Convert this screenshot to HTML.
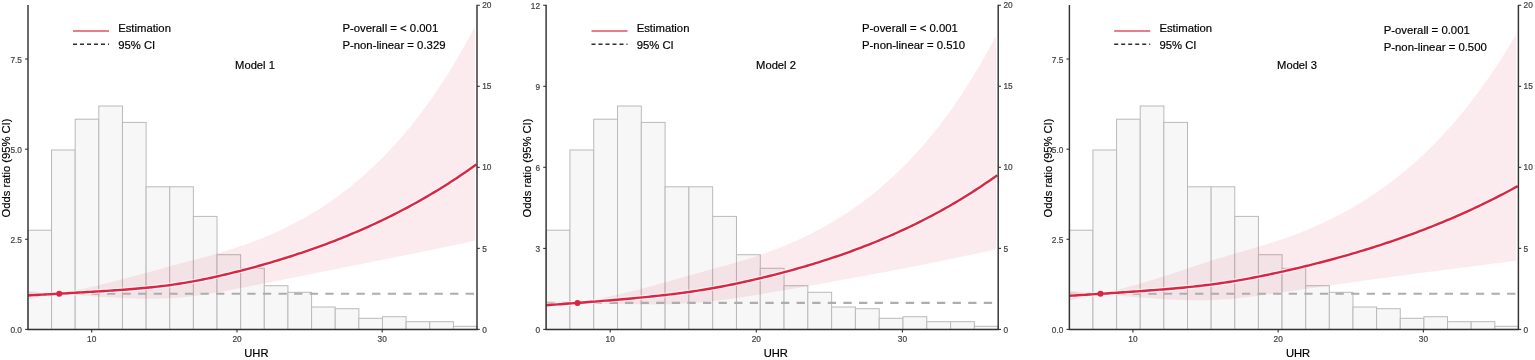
<!DOCTYPE html>
<html lang="en"><head><meta charset="utf-8"><title>Restricted cubic spline: UHR and odds ratio</title>
<style>html,body{margin:0;padding:0;background:#fff;}body{width:1535px;height:360px;overflow:hidden;}svg{display:block;}</style>
</head><body>
<svg width="1535" height="360" viewBox="0 0 1535 360" font-family='"Liberation Sans", sans-serif'>
<rect width="1535" height="360" fill="#ffffff"/>
<g fill="#f7f7f7" stroke="#bababa" stroke-width="1.0">
<rect x="27.90" y="230.20" width="23.64" height="99.20"/>
<rect x="51.54" y="150.00" width="23.64" height="179.40"/>
<rect x="75.18" y="119.20" width="23.64" height="210.20"/>
<rect x="98.82" y="106.00" width="23.64" height="223.40"/>
<rect x="122.46" y="122.40" width="23.64" height="207.00"/>
<rect x="146.10" y="186.80" width="23.64" height="142.60"/>
<rect x="169.74" y="186.80" width="23.64" height="142.60"/>
<rect x="193.38" y="216.40" width="23.64" height="113.00"/>
<rect x="217.02" y="254.70" width="23.64" height="74.70"/>
<rect x="240.66" y="268.30" width="23.64" height="61.10"/>
<rect x="264.30" y="285.70" width="23.64" height="43.70"/>
<rect x="287.94" y="292.30" width="23.64" height="37.10"/>
<rect x="311.58" y="307.00" width="23.64" height="22.40"/>
<rect x="335.22" y="308.70" width="23.64" height="20.70"/>
<rect x="358.86" y="318.30" width="23.64" height="11.10"/>
<rect x="382.50" y="316.70" width="23.64" height="12.70"/>
<rect x="406.14" y="321.70" width="23.64" height="7.70"/>
<rect x="429.78" y="321.70" width="23.64" height="7.70"/>
<rect x="453.42" y="326.30" width="23.64" height="3.10"/>
</g>
<path d="M28.00,291.13 L30.82,291.37 L33.64,291.60 L36.46,291.84 L39.28,292.08 L42.10,292.31 L44.92,292.54 L47.74,292.77 L50.56,293.00 L53.38,293.23 L56.19,293.46 L59.01,293.69 L61.83,293.19 L64.65,292.63 L67.47,292.06 L70.29,291.49 L73.11,290.90 L75.93,290.31 L78.75,289.71 L81.57,289.09 L84.39,288.47 L87.21,287.84 L90.03,287.20 L92.85,286.55 L95.67,285.89 L98.49,285.22 L101.31,284.55 L104.13,283.86 L106.95,283.16 L109.77,282.46 L112.58,281.75 L115.40,281.03 L118.22,280.31 L121.04,279.58 L123.86,278.84 L126.68,278.09 L129.50,277.34 L132.32,276.59 L135.14,275.83 L137.96,275.07 L140.78,274.30 L143.60,273.54 L146.42,272.76 L149.24,271.99 L152.06,271.22 L154.88,270.44 L157.70,269.67 L160.52,268.90 L163.34,268.12 L166.16,267.35 L168.97,266.58 L171.79,265.82 L174.61,265.06 L177.43,264.30 L180.25,263.54 L183.07,262.79 L185.89,262.03 L188.71,261.28 L191.53,260.53 L194.35,259.77 L197.17,259.02 L199.99,258.26 L202.81,257.49 L205.63,256.72 L208.45,255.94 L211.27,255.15 L214.09,254.36 L216.91,253.55 L219.73,252.73 L222.55,251.90 L225.36,251.05 L228.18,250.18 L231.00,249.30 L233.82,248.40 L236.64,247.48 L239.46,246.54 L242.28,245.58 L245.10,244.60 L247.92,243.59 L250.74,242.56 L253.56,241.51 L256.38,240.44 L259.20,239.34 L262.02,238.21 L264.84,237.06 L267.66,235.89 L270.48,234.68 L273.30,233.45 L276.12,232.19 L278.94,230.90 L281.75,229.59 L284.57,228.24 L287.39,226.86 L290.21,225.45 L293.03,224.01 L295.85,222.53 L298.67,221.03 L301.49,219.49 L304.31,217.91 L307.13,216.30 L309.95,214.65 L312.77,212.97 L315.59,211.25 L318.41,209.49 L321.23,207.70 L324.05,205.86 L326.87,203.98 L329.69,202.07 L332.51,200.11 L335.33,198.11 L338.14,196.07 L340.96,193.98 L343.78,191.85 L346.60,189.68 L349.42,187.46 L352.24,185.19 L355.06,182.87 L357.88,180.51 L360.70,178.10 L363.52,175.63 L366.34,173.12 L369.16,170.55 L371.98,167.94 L374.80,165.26 L377.62,162.54 L380.44,159.75 L383.26,156.92 L386.08,154.02 L388.90,151.07 L391.72,148.05 L394.53,144.98 L397.35,141.84 L400.17,138.64 L402.99,135.38 L405.81,132.05 L408.63,128.65 L411.45,125.19 L414.27,121.66 L417.09,118.06 L419.91,114.39 L422.73,110.65 L425.55,106.83 L428.37,102.94 L431.19,98.97 L434.01,94.92 L436.83,90.79 L439.65,86.59 L442.47,82.30 L445.29,77.92 L448.11,73.47 L450.92,68.92 L453.74,64.29 L456.56,59.57 L459.38,54.75 L462.20,49.84 L465.02,44.84 L467.84,39.74 L470.66,34.54 L473.48,29.24 L474.80,26.72 L474.80,240.68 L473.48,240.97 L470.66,241.58 L467.84,242.19 L465.02,242.79 L462.20,243.40 L459.38,244.00 L456.56,244.60 L453.74,245.20 L450.92,245.79 L448.11,246.39 L445.29,246.98 L442.47,247.57 L439.65,248.16 L436.83,248.75 L434.01,249.34 L431.19,249.92 L428.37,250.50 L425.55,251.09 L422.73,251.67 L419.91,252.24 L417.09,252.82 L414.27,253.40 L411.45,253.97 L408.63,254.55 L405.81,255.12 L402.99,255.69 L400.17,256.26 L397.35,256.83 L394.53,257.40 L391.72,257.97 L388.90,258.54 L386.08,259.10 L383.26,259.67 L380.44,260.24 L377.62,260.80 L374.80,261.37 L371.98,261.93 L369.16,262.49 L366.34,263.06 L363.52,263.62 L360.70,264.18 L357.88,264.74 L355.06,265.31 L352.24,265.87 L349.42,266.43 L346.60,266.99 L343.78,267.56 L340.96,268.12 L338.14,268.68 L335.33,269.24 L332.51,269.80 L329.69,270.37 L326.87,270.93 L324.05,271.49 L321.23,272.05 L318.41,272.62 L315.59,273.18 L312.77,273.74 L309.95,274.31 L307.13,274.87 L304.31,275.44 L301.49,276.00 L298.67,276.56 L295.85,277.13 L293.03,277.69 L290.21,278.26 L287.39,278.82 L284.57,279.38 L281.75,279.95 L278.94,280.51 L276.12,281.07 L273.30,281.63 L270.48,282.19 L267.66,282.76 L264.84,283.31 L262.02,283.87 L259.20,284.43 L256.38,284.99 L253.56,285.54 L250.74,286.10 L247.92,286.65 L245.10,287.20 L242.28,287.75 L239.46,288.29 L236.64,288.84 L233.82,289.38 L231.00,289.92 L228.18,290.45 L225.36,290.98 L222.55,291.49 L219.73,292.00 L216.91,292.50 L214.09,292.99 L211.27,293.46 L208.45,293.92 L205.63,294.36 L202.81,294.79 L199.99,295.20 L197.17,295.59 L194.35,295.96 L191.53,296.31 L188.71,296.64 L185.89,296.95 L183.07,297.24 L180.25,297.50 L177.43,297.74 L174.61,297.95 L171.79,298.14 L168.97,298.30 L166.16,298.44 L163.34,298.55 L160.52,298.64 L157.70,298.71 L154.88,298.76 L152.06,298.80 L149.24,298.81 L146.42,298.80 L143.60,298.78 L140.78,298.74 L137.96,298.69 L135.14,298.62 L132.32,298.53 L129.50,298.44 L126.68,298.33 L123.86,298.21 L121.04,298.07 L118.22,297.93 L115.40,297.78 L112.58,297.61 L109.77,297.44 L106.95,297.26 L104.13,297.08 L101.31,296.89 L98.49,296.69 L95.67,296.49 L92.85,296.28 L90.03,296.07 L87.21,295.86 L84.39,295.65 L81.57,295.44 L78.75,295.22 L75.93,295.01 L73.11,294.79 L70.29,294.57 L67.47,294.35 L64.65,294.13 L61.83,293.91 L59.01,293.74 L56.19,294.28 L53.38,294.81 L50.56,295.34 L47.74,295.85 L44.92,296.36 L42.10,296.86 L39.28,297.36 L36.46,297.84 L33.64,298.32 L30.82,298.79 L28.00,299.26 Z" fill="#dc2543" fill-opacity="0.09"/>
<line x1="28.90" y1="293.70" x2="477.00" y2="293.70" stroke="#adadad" stroke-width="2.1" stroke-dasharray="8.3 7.3"/>
<path d="M28.00,295.43 L30.82,295.28 L33.64,295.13 L36.46,294.97 L39.28,294.82 L42.10,294.66 L44.92,294.50 L47.74,294.35 L50.56,294.19 L53.38,294.03 L56.19,293.87 L59.01,293.71 L61.83,293.55 L64.65,293.39 L67.47,293.23 L70.29,293.06 L73.11,292.90 L75.93,292.73 L78.75,292.57 L81.57,292.40 L84.39,292.24 L87.21,292.07 L90.03,291.90 L92.85,291.73 L95.67,291.56 L98.49,291.39 L101.31,291.21 L104.13,291.03 L106.95,290.85 L109.77,290.67 L112.58,290.48 L115.40,290.29 L118.22,290.09 L121.04,289.89 L123.86,289.69 L126.68,289.47 L129.50,289.25 L132.32,289.03 L135.14,288.79 L137.96,288.55 L140.78,288.30 L143.60,288.04 L146.42,287.77 L149.24,287.49 L152.06,287.20 L154.88,286.90 L157.70,286.59 L160.52,286.26 L163.34,285.92 L166.16,285.57 L168.97,285.20 L171.79,284.82 L174.61,284.42 L177.43,284.00 L180.25,283.56 L183.07,283.11 L185.89,282.65 L188.71,282.16 L191.53,281.66 L194.35,281.15 L197.17,280.62 L199.99,280.07 L202.81,279.51 L205.63,278.94 L208.45,278.35 L211.27,277.74 L214.09,277.13 L216.91,276.50 L219.73,275.85 L222.55,275.20 L225.36,274.53 L228.18,273.85 L231.00,273.16 L233.82,272.46 L236.64,271.76 L239.46,271.04 L242.28,270.31 L245.10,269.58 L247.92,268.83 L250.74,268.08 L253.56,267.32 L256.38,266.54 L259.20,265.76 L262.02,264.97 L264.84,264.17 L267.66,263.35 L270.48,262.53 L273.30,261.70 L276.12,260.86 L278.94,260.01 L281.75,259.14 L284.57,258.27 L287.39,257.38 L290.21,256.49 L293.03,255.58 L295.85,254.66 L298.67,253.73 L301.49,252.79 L304.31,251.83 L307.13,250.87 L309.95,249.89 L312.77,248.90 L315.59,247.90 L318.41,246.89 L321.23,245.86 L324.05,244.82 L326.87,243.77 L329.69,242.70 L332.51,241.62 L335.33,240.53 L338.14,239.42 L340.96,238.30 L343.78,237.17 L346.60,236.02 L349.42,234.86 L352.24,233.68 L355.06,232.49 L357.88,231.28 L360.70,230.06 L363.52,228.83 L366.34,227.58 L369.16,226.31 L371.98,225.03 L374.80,223.73 L377.62,222.41 L380.44,221.08 L383.26,219.73 L386.08,218.37 L388.90,216.99 L391.72,215.59 L394.53,214.17 L397.35,212.74 L400.17,211.28 L402.99,209.81 L405.81,208.32 L408.63,206.82 L411.45,205.29 L414.27,203.75 L417.09,202.18 L419.91,200.60 L422.73,199.00 L425.55,197.37 L428.37,195.73 L431.19,194.07 L434.01,192.38 L436.83,190.68 L439.65,188.95 L442.47,187.20 L445.29,185.43 L448.11,183.64 L450.92,181.83 L453.74,179.99 L456.56,178.13 L459.38,176.25 L462.20,174.34 L465.02,172.41 L467.84,170.46 L470.66,168.48 L473.48,166.48 L476.30,164.45" fill="none" stroke="#ffffff" stroke-opacity="0.6" stroke-width="4.8" stroke-linejoin="round"/>
<path d="M28.00,295.43 L30.82,295.28 L33.64,295.13 L36.46,294.97 L39.28,294.82 L42.10,294.66 L44.92,294.50 L47.74,294.35 L50.56,294.19 L53.38,294.03 L56.19,293.87 L59.01,293.71 L61.83,293.55 L64.65,293.39 L67.47,293.23 L70.29,293.06 L73.11,292.90 L75.93,292.73 L78.75,292.57 L81.57,292.40 L84.39,292.24 L87.21,292.07 L90.03,291.90 L92.85,291.73 L95.67,291.56 L98.49,291.39 L101.31,291.21 L104.13,291.03 L106.95,290.85 L109.77,290.67 L112.58,290.48 L115.40,290.29 L118.22,290.09 L121.04,289.89 L123.86,289.69 L126.68,289.47 L129.50,289.25 L132.32,289.03 L135.14,288.79 L137.96,288.55 L140.78,288.30 L143.60,288.04 L146.42,287.77 L149.24,287.49 L152.06,287.20 L154.88,286.90 L157.70,286.59 L160.52,286.26 L163.34,285.92 L166.16,285.57 L168.97,285.20 L171.79,284.82 L174.61,284.42 L177.43,284.00 L180.25,283.56 L183.07,283.11 L185.89,282.65 L188.71,282.16 L191.53,281.66 L194.35,281.15 L197.17,280.62 L199.99,280.07 L202.81,279.51 L205.63,278.94 L208.45,278.35 L211.27,277.74 L214.09,277.13 L216.91,276.50 L219.73,275.85 L222.55,275.20 L225.36,274.53 L228.18,273.85 L231.00,273.16 L233.82,272.46 L236.64,271.76 L239.46,271.04 L242.28,270.31 L245.10,269.58 L247.92,268.83 L250.74,268.08 L253.56,267.32 L256.38,266.54 L259.20,265.76 L262.02,264.97 L264.84,264.17 L267.66,263.35 L270.48,262.53 L273.30,261.70 L276.12,260.86 L278.94,260.01 L281.75,259.14 L284.57,258.27 L287.39,257.38 L290.21,256.49 L293.03,255.58 L295.85,254.66 L298.67,253.73 L301.49,252.79 L304.31,251.83 L307.13,250.87 L309.95,249.89 L312.77,248.90 L315.59,247.90 L318.41,246.89 L321.23,245.86 L324.05,244.82 L326.87,243.77 L329.69,242.70 L332.51,241.62 L335.33,240.53 L338.14,239.42 L340.96,238.30 L343.78,237.17 L346.60,236.02 L349.42,234.86 L352.24,233.68 L355.06,232.49 L357.88,231.28 L360.70,230.06 L363.52,228.83 L366.34,227.58 L369.16,226.31 L371.98,225.03 L374.80,223.73 L377.62,222.41 L380.44,221.08 L383.26,219.73 L386.08,218.37 L388.90,216.99 L391.72,215.59 L394.53,214.17 L397.35,212.74 L400.17,211.28 L402.99,209.81 L405.81,208.32 L408.63,206.82 L411.45,205.29 L414.27,203.75 L417.09,202.18 L419.91,200.60 L422.73,199.00 L425.55,197.37 L428.37,195.73 L431.19,194.07 L434.01,192.38 L436.83,190.68 L439.65,188.95 L442.47,187.20 L445.29,185.43 L448.11,183.64 L450.92,181.83 L453.74,179.99 L456.56,178.13 L459.38,176.25 L462.20,174.34 L465.02,172.41 L467.84,170.46 L470.66,168.48 L473.48,166.48 L476.30,164.45" fill="none" stroke="#dc2543" stroke-width="2.4" stroke-linejoin="round"/>
<circle cx="59.20" cy="293.70" r="3.0" fill="#dc2543"/>
<g stroke="#333333" stroke-width="1.45" fill="none">
<path d="M28.00,5.0 V329.4 H477.00 V5.0" stroke-linejoin="miter"/>
<line x1="25.10" y1="329.4" x2="28.00" y2="329.4" stroke-width="1.1"/>
<line x1="25.10" y1="239.3" x2="28.00" y2="239.3" stroke-width="1.1"/>
<line x1="25.10" y1="149.2" x2="28.00" y2="149.2" stroke-width="1.1"/>
<line x1="25.10" y1="59" x2="28.00" y2="59" stroke-width="1.1"/>
<line x1="477.00" y1="329.40" x2="479.80" y2="329.40" stroke-width="1.1"/>
<line x1="477.00" y1="248.37" x2="479.80" y2="248.37" stroke-width="1.1"/>
<line x1="477.00" y1="167.34" x2="479.80" y2="167.34" stroke-width="1.1"/>
<line x1="477.00" y1="86.31" x2="479.80" y2="86.31" stroke-width="1.1"/>
<line x1="477.00" y1="5.28" x2="479.80" y2="5.28" stroke-width="1.1"/>
<line x1="91.7" y1="329.4" x2="91.7" y2="332.4" stroke-width="1.1"/>
<line x1="237.0" y1="329.4" x2="237.0" y2="332.4" stroke-width="1.1"/>
<line x1="382.2" y1="329.4" x2="382.2" y2="332.4" stroke-width="1.1"/>
</g>
<text x="22.00" y="333.05" font-size="8.3" text-anchor="end" fill="#424242" stroke="#424242" stroke-width="0.2" >0.0</text>
<text x="22.00" y="242.95" font-size="8.3" text-anchor="end" fill="#424242" stroke="#424242" stroke-width="0.2" >2.5</text>
<text x="22.00" y="152.85" font-size="8.3" text-anchor="end" fill="#424242" stroke="#424242" stroke-width="0.2" >5.0</text>
<text x="22.00" y="62.65" font-size="8.3" text-anchor="end" fill="#424242" stroke="#424242" stroke-width="0.2" >7.5</text>
<text x="482.20" y="332.55" font-size="8.3" text-anchor="start" fill="#424242" stroke="#424242" stroke-width="0.2" >0</text>
<text x="482.20" y="251.52" font-size="8.3" text-anchor="start" fill="#424242" stroke="#424242" stroke-width="0.2" >5</text>
<text x="482.20" y="170.49" font-size="8.3" text-anchor="start" fill="#424242" stroke="#424242" stroke-width="0.2" >10</text>
<text x="482.20" y="89.46" font-size="8.3" text-anchor="start" fill="#424242" stroke="#424242" stroke-width="0.2" >15</text>
<text x="482.20" y="8.43" font-size="8.3" text-anchor="start" fill="#424242" stroke="#424242" stroke-width="0.2" >20</text>
<text x="91.70" y="342.30" font-size="8.3" text-anchor="middle" fill="#424242" stroke="#424242" stroke-width="0.2" >10</text>
<text x="237.00" y="342.30" font-size="8.3" text-anchor="middle" fill="#424242" stroke="#424242" stroke-width="0.2" >20</text>
<text x="382.20" y="342.30" font-size="8.3" text-anchor="middle" fill="#424242" stroke="#424242" stroke-width="0.2" >30</text>
<text x="256.40" y="357.45" font-size="11.2" text-anchor="middle" fill="#000000" stroke="#000000" stroke-width="0.18" >UHR</text>
<text transform="translate(10.2,168) rotate(-90)" font-size="11.2" text-anchor="middle" fill="#000000" stroke="#000000" stroke-width="0.18">Odds ratio (95% CI)</text>
<line x1="73" y1="31" x2="109" y2="31" stroke="#e0506a" stroke-width="1.3"/>
<line x1="73" y1="44.2" x2="109" y2="44.2" stroke="#2e2e2e" stroke-width="1.35" stroke-dasharray="4 3"/>
<text x="118.20" y="32.40" font-size="11.3" text-anchor="start" fill="#000000" stroke="#000000" stroke-width="0.18" >Estimation</text>
<text x="118.20" y="48.50" font-size="11.3" text-anchor="start" fill="#000000" stroke="#000000" stroke-width="0.18" >95% CI</text>
<text x="342.40" y="32.15" font-size="11.35" text-anchor="start" fill="#000000" stroke="#000000" stroke-width="0.18" >P-overall = &lt; 0.001</text>
<text x="342.40" y="49.20" font-size="11.35" text-anchor="start" fill="#000000" stroke="#000000" stroke-width="0.18" >P-non-linear = 0.329</text>
<text x="255.00" y="68.90" font-size="11.2" text-anchor="middle" fill="#000000" stroke="#000000" stroke-width="0.18" >Model 1</text>
<g fill="#f7f7f7" stroke="#bababa" stroke-width="1.0">
<rect x="546.15" y="230.20" width="23.79" height="99.20"/>
<rect x="569.94" y="150.00" width="23.79" height="179.40"/>
<rect x="593.73" y="119.20" width="23.79" height="210.20"/>
<rect x="617.52" y="106.00" width="23.79" height="223.40"/>
<rect x="641.31" y="122.40" width="23.79" height="207.00"/>
<rect x="665.10" y="186.80" width="23.79" height="142.60"/>
<rect x="688.89" y="186.80" width="23.79" height="142.60"/>
<rect x="712.68" y="216.40" width="23.79" height="113.00"/>
<rect x="736.47" y="254.70" width="23.79" height="74.70"/>
<rect x="760.26" y="268.30" width="23.79" height="61.10"/>
<rect x="784.05" y="285.70" width="23.79" height="43.70"/>
<rect x="807.84" y="292.30" width="23.79" height="37.10"/>
<rect x="831.63" y="307.00" width="23.79" height="22.40"/>
<rect x="855.42" y="308.70" width="23.79" height="20.70"/>
<rect x="879.21" y="318.30" width="23.79" height="11.10"/>
<rect x="903.00" y="316.70" width="23.79" height="12.70"/>
<rect x="926.79" y="321.70" width="23.79" height="7.70"/>
<rect x="950.58" y="321.70" width="23.79" height="7.70"/>
<rect x="974.37" y="326.30" width="23.79" height="3.10"/>
</g>
<path d="M546.10,302.05 L548.94,302.13 L551.78,302.20 L554.61,302.28 L557.45,302.36 L560.29,302.44 L563.13,302.51 L565.96,302.59 L568.80,302.67 L571.64,302.74 L574.48,302.82 L577.32,302.90 L580.15,302.42 L582.99,301.90 L585.83,301.37 L588.67,300.83 L591.50,300.27 L594.34,299.71 L597.18,299.14 L600.02,298.55 L602.85,297.95 L605.69,297.35 L608.53,296.73 L611.37,296.09 L614.21,295.45 L617.04,294.80 L619.88,294.13 L622.72,293.45 L625.56,292.77 L628.39,292.07 L631.23,291.36 L634.07,290.64 L636.91,289.92 L639.75,289.18 L642.58,288.44 L645.42,287.68 L648.26,286.92 L651.10,286.16 L653.93,285.38 L656.77,284.60 L659.61,283.82 L662.45,283.03 L665.28,282.23 L668.12,281.44 L670.96,280.64 L673.80,279.84 L676.64,279.04 L679.47,278.23 L682.31,277.43 L685.15,276.63 L687.99,275.83 L690.82,275.04 L693.66,274.25 L696.50,273.46 L699.34,272.68 L702.18,271.90 L705.01,271.12 L707.85,270.34 L710.69,269.57 L713.53,268.79 L716.36,268.01 L719.20,267.23 L722.04,266.45 L724.88,265.66 L727.72,264.86 L730.55,264.06 L733.39,263.25 L736.23,262.43 L739.07,261.59 L741.90,260.75 L744.74,259.89 L747.58,259.01 L750.42,258.12 L753.25,257.22 L756.09,256.29 L758.93,255.34 L761.77,254.37 L764.61,253.38 L767.44,252.37 L770.28,251.34 L773.12,250.28 L775.96,249.20 L778.79,248.10 L781.63,246.97 L784.47,245.81 L787.31,244.63 L790.15,243.43 L792.98,242.20 L795.82,240.94 L798.66,239.65 L801.50,238.34 L804.33,236.99 L807.17,235.62 L810.01,234.21 L812.85,232.78 L815.68,231.31 L818.52,229.81 L821.36,228.28 L824.20,226.71 L827.04,225.11 L829.87,223.48 L832.71,221.81 L835.55,220.10 L838.39,218.36 L841.22,216.58 L844.06,214.76 L846.90,212.90 L849.74,211.00 L852.58,209.06 L855.41,207.08 L858.25,205.06 L861.09,203.00 L863.93,200.89 L866.76,198.74 L869.60,196.54 L872.44,194.29 L875.28,192.00 L878.12,189.66 L880.95,187.27 L883.79,184.84 L886.63,182.35 L889.47,179.81 L892.30,177.21 L895.14,174.57 L897.98,171.87 L900.82,169.11 L903.65,166.30 L906.49,163.43 L909.33,160.50 L912.17,157.51 L915.01,154.45 L917.84,151.34 L920.68,148.16 L923.52,144.92 L926.36,141.61 L929.19,138.24 L932.03,134.80 L934.87,131.28 L937.71,127.70 L940.55,124.04 L943.38,120.31 L946.22,116.51 L949.06,112.62 L951.90,108.66 L954.73,104.62 L957.57,100.50 L960.41,96.30 L963.25,92.01 L966.08,87.64 L968.92,83.17 L971.76,78.62 L974.60,73.98 L977.44,69.25 L980.27,64.42 L983.11,59.49 L985.95,54.46 L988.79,49.34 L991.62,44.11 L994.46,38.78 L996.00,35.83 L996.00,249.34 L994.46,249.68 L991.62,250.31 L988.79,250.93 L985.95,251.55 L983.11,252.17 L980.27,252.78 L977.44,253.40 L974.60,254.00 L971.76,254.61 L968.92,255.21 L966.08,255.81 L963.25,256.41 L960.41,257.01 L957.57,257.60 L954.73,258.19 L951.90,258.77 L949.06,259.36 L946.22,259.94 L943.38,260.52 L940.55,261.10 L937.71,261.67 L934.87,262.24 L932.03,262.81 L929.19,263.38 L926.36,263.95 L923.52,264.51 L920.68,265.07 L917.84,265.63 L915.01,266.19 L912.17,266.74 L909.33,267.29 L906.49,267.85 L903.65,268.39 L900.82,268.94 L897.98,269.49 L895.14,270.03 L892.30,270.57 L889.47,271.11 L886.63,271.65 L883.79,272.19 L880.95,272.72 L878.12,273.26 L875.28,273.79 L872.44,274.32 L869.60,274.85 L866.76,275.38 L863.93,275.91 L861.09,276.43 L858.25,276.96 L855.41,277.48 L852.58,278.00 L849.74,278.52 L846.90,279.04 L844.06,279.56 L841.22,280.07 L838.39,280.59 L835.55,281.10 L832.71,281.62 L829.87,282.13 L827.04,282.64 L824.20,283.15 L821.36,283.66 L818.52,284.16 L815.68,284.67 L812.85,285.17 L810.01,285.68 L807.17,286.18 L804.33,286.68 L801.50,287.18 L798.66,287.68 L795.82,288.17 L792.98,288.67 L790.15,289.16 L787.31,289.65 L784.47,290.14 L781.63,290.63 L778.79,291.12 L775.96,291.60 L773.12,292.08 L770.28,292.56 L767.44,293.04 L764.61,293.52 L761.77,293.99 L758.93,294.47 L756.09,294.93 L753.25,295.40 L750.42,295.87 L747.58,296.32 L744.74,296.78 L741.90,297.23 L739.07,297.66 L736.23,298.10 L733.39,298.52 L730.55,298.93 L727.72,299.33 L724.88,299.72 L722.04,300.10 L719.20,300.46 L716.36,300.81 L713.53,301.15 L710.69,301.47 L707.85,301.78 L705.01,302.06 L702.18,302.34 L699.34,302.59 L696.50,302.83 L693.66,303.04 L690.82,303.24 L687.99,303.42 L685.15,303.58 L682.31,303.73 L679.47,303.86 L676.64,303.97 L673.80,304.07 L670.96,304.16 L668.12,304.23 L665.28,304.29 L662.45,304.34 L659.61,304.37 L656.77,304.40 L653.93,304.41 L651.10,304.42 L648.26,304.41 L645.42,304.40 L642.58,304.38 L639.75,304.35 L636.91,304.32 L634.07,304.28 L631.23,304.23 L628.39,304.18 L625.56,304.12 L622.72,304.06 L619.88,304.00 L617.04,303.93 L614.21,303.86 L611.37,303.79 L608.53,303.72 L605.69,303.64 L602.85,303.57 L600.02,303.49 L597.18,303.42 L594.34,303.35 L591.50,303.27 L588.67,303.20 L585.83,303.12 L582.99,303.05 L580.15,302.97 L577.32,302.93 L574.48,303.44 L571.64,303.93 L568.80,304.41 L565.96,304.89 L563.13,305.35 L560.29,305.81 L557.45,306.25 L554.61,306.69 L551.78,307.12 L548.94,307.55 L546.10,307.96 Z" fill="#dc2543" fill-opacity="0.09"/>
<line x1="547.00" y1="302.90" x2="998.20" y2="302.90" stroke="#adadad" stroke-width="2.1" stroke-dasharray="8.3 7.3"/>
<path d="M546.10,305.18 L548.94,304.99 L551.78,304.79 L554.61,304.59 L557.45,304.38 L560.29,304.18 L563.13,303.97 L565.96,303.76 L568.80,303.55 L571.64,303.34 L574.48,303.13 L577.32,302.91 L580.15,302.70 L582.99,302.48 L585.83,302.26 L588.67,302.04 L591.50,301.81 L594.34,301.59 L597.18,301.36 L600.02,301.13 L602.85,300.90 L605.69,300.67 L608.53,300.43 L611.37,300.19 L614.21,299.95 L617.04,299.71 L619.88,299.47 L622.72,299.22 L625.56,298.97 L628.39,298.72 L631.23,298.46 L634.07,298.20 L636.91,297.93 L639.75,297.66 L642.58,297.39 L645.42,297.11 L648.26,296.82 L651.10,296.53 L653.93,296.24 L656.77,295.93 L659.61,295.62 L662.45,295.31 L665.28,294.99 L668.12,294.66 L670.96,294.32 L673.80,293.97 L676.64,293.61 L679.47,293.25 L682.31,292.88 L685.15,292.49 L687.99,292.10 L690.82,291.69 L693.66,291.27 L696.50,290.84 L699.34,290.40 L702.18,289.95 L705.01,289.49 L707.85,289.01 L710.69,288.52 L713.53,288.02 L716.36,287.51 L719.20,286.99 L722.04,286.45 L724.88,285.91 L727.72,285.35 L730.55,284.78 L733.39,284.20 L736.23,283.61 L739.07,283.01 L741.90,282.40 L744.74,281.78 L747.58,281.15 L750.42,280.51 L753.25,279.86 L756.09,279.20 L758.93,278.54 L761.77,277.86 L764.61,277.17 L767.44,276.48 L770.28,275.78 L773.12,275.06 L775.96,274.34 L778.79,273.61 L781.63,272.87 L784.47,272.12 L787.31,271.35 L790.15,270.58 L792.98,269.80 L795.82,269.01 L798.66,268.21 L801.50,267.39 L804.33,266.57 L807.17,265.73 L810.01,264.89 L812.85,264.03 L815.68,263.16 L818.52,262.28 L821.36,261.39 L824.20,260.48 L827.04,259.57 L829.87,258.64 L832.71,257.70 L835.55,256.74 L838.39,255.78 L841.22,254.80 L844.06,253.81 L846.90,252.80 L849.74,251.78 L852.58,250.75 L855.41,249.71 L858.25,248.65 L861.09,247.57 L863.93,246.49 L866.76,245.38 L869.60,244.27 L872.44,243.14 L875.28,241.99 L878.12,240.83 L880.95,239.65 L883.79,238.46 L886.63,237.25 L889.47,236.02 L892.30,234.78 L895.14,233.52 L897.98,232.25 L900.82,230.96 L903.65,229.65 L906.49,228.32 L909.33,226.98 L912.17,225.62 L915.01,224.24 L917.84,222.84 L920.68,221.42 L923.52,219.99 L926.36,218.53 L929.19,217.06 L932.03,215.57 L934.87,214.05 L937.71,212.52 L940.55,210.97 L943.38,209.39 L946.22,207.80 L949.06,206.18 L951.90,204.54 L954.73,202.88 L957.57,201.20 L960.41,199.50 L963.25,197.77 L966.08,196.02 L968.92,194.25 L971.76,192.45 L974.60,190.63 L977.44,188.78 L980.27,186.92 L983.11,185.02 L985.95,183.10 L988.79,181.16 L991.62,179.19 L994.46,177.19 L997.30,175.17" fill="none" stroke="#ffffff" stroke-opacity="0.6" stroke-width="4.8" stroke-linejoin="round"/>
<path d="M546.10,305.18 L548.94,304.99 L551.78,304.79 L554.61,304.59 L557.45,304.38 L560.29,304.18 L563.13,303.97 L565.96,303.76 L568.80,303.55 L571.64,303.34 L574.48,303.13 L577.32,302.91 L580.15,302.70 L582.99,302.48 L585.83,302.26 L588.67,302.04 L591.50,301.81 L594.34,301.59 L597.18,301.36 L600.02,301.13 L602.85,300.90 L605.69,300.67 L608.53,300.43 L611.37,300.19 L614.21,299.95 L617.04,299.71 L619.88,299.47 L622.72,299.22 L625.56,298.97 L628.39,298.72 L631.23,298.46 L634.07,298.20 L636.91,297.93 L639.75,297.66 L642.58,297.39 L645.42,297.11 L648.26,296.82 L651.10,296.53 L653.93,296.24 L656.77,295.93 L659.61,295.62 L662.45,295.31 L665.28,294.99 L668.12,294.66 L670.96,294.32 L673.80,293.97 L676.64,293.61 L679.47,293.25 L682.31,292.88 L685.15,292.49 L687.99,292.10 L690.82,291.69 L693.66,291.27 L696.50,290.84 L699.34,290.40 L702.18,289.95 L705.01,289.49 L707.85,289.01 L710.69,288.52 L713.53,288.02 L716.36,287.51 L719.20,286.99 L722.04,286.45 L724.88,285.91 L727.72,285.35 L730.55,284.78 L733.39,284.20 L736.23,283.61 L739.07,283.01 L741.90,282.40 L744.74,281.78 L747.58,281.15 L750.42,280.51 L753.25,279.86 L756.09,279.20 L758.93,278.54 L761.77,277.86 L764.61,277.17 L767.44,276.48 L770.28,275.78 L773.12,275.06 L775.96,274.34 L778.79,273.61 L781.63,272.87 L784.47,272.12 L787.31,271.35 L790.15,270.58 L792.98,269.80 L795.82,269.01 L798.66,268.21 L801.50,267.39 L804.33,266.57 L807.17,265.73 L810.01,264.89 L812.85,264.03 L815.68,263.16 L818.52,262.28 L821.36,261.39 L824.20,260.48 L827.04,259.57 L829.87,258.64 L832.71,257.70 L835.55,256.74 L838.39,255.78 L841.22,254.80 L844.06,253.81 L846.90,252.80 L849.74,251.78 L852.58,250.75 L855.41,249.71 L858.25,248.65 L861.09,247.57 L863.93,246.49 L866.76,245.38 L869.60,244.27 L872.44,243.14 L875.28,241.99 L878.12,240.83 L880.95,239.65 L883.79,238.46 L886.63,237.25 L889.47,236.02 L892.30,234.78 L895.14,233.52 L897.98,232.25 L900.82,230.96 L903.65,229.65 L906.49,228.32 L909.33,226.98 L912.17,225.62 L915.01,224.24 L917.84,222.84 L920.68,221.42 L923.52,219.99 L926.36,218.53 L929.19,217.06 L932.03,215.57 L934.87,214.05 L937.71,212.52 L940.55,210.97 L943.38,209.39 L946.22,207.80 L949.06,206.18 L951.90,204.54 L954.73,202.88 L957.57,201.20 L960.41,199.50 L963.25,197.77 L966.08,196.02 L968.92,194.25 L971.76,192.45 L974.60,190.63 L977.44,188.78 L980.27,186.92 L983.11,185.02 L985.95,183.10 L988.79,181.16 L991.62,179.19 L994.46,177.19 L997.30,175.17" fill="none" stroke="#dc2543" stroke-width="2.4" stroke-linejoin="round"/>
<circle cx="577.50" cy="302.90" r="3.0" fill="#dc2543"/>
<g stroke="#333333" stroke-width="1.45" fill="none">
<path d="M546.10,4.75 V329.4 H998.20 V4.75" stroke-linejoin="miter"/>
<line x1="543.20" y1="329.4" x2="546.10" y2="329.4" stroke-width="1.1"/>
<line x1="543.20" y1="248.4" x2="546.10" y2="248.4" stroke-width="1.1"/>
<line x1="543.20" y1="167.3" x2="546.10" y2="167.3" stroke-width="1.1"/>
<line x1="543.20" y1="86.3" x2="546.10" y2="86.3" stroke-width="1.1"/>
<line x1="543.20" y1="5.3" x2="546.10" y2="5.3" stroke-width="1.1"/>
<line x1="998.20" y1="329.40" x2="1001.00" y2="329.40" stroke-width="1.1"/>
<line x1="998.20" y1="248.37" x2="1001.00" y2="248.37" stroke-width="1.1"/>
<line x1="998.20" y1="167.34" x2="1001.00" y2="167.34" stroke-width="1.1"/>
<line x1="998.20" y1="86.31" x2="1001.00" y2="86.31" stroke-width="1.1"/>
<line x1="998.20" y1="5.28" x2="1001.00" y2="5.28" stroke-width="1.1"/>
<line x1="610.2" y1="329.4" x2="610.2" y2="332.4" stroke-width="1.1"/>
<line x1="756.3" y1="329.4" x2="756.3" y2="332.4" stroke-width="1.1"/>
<line x1="902.4" y1="329.4" x2="902.4" y2="332.4" stroke-width="1.1"/>
</g>
<text x="540.10" y="333.05" font-size="8.3" text-anchor="end" fill="#424242" stroke="#424242" stroke-width="0.2" >0</text>
<text x="540.10" y="252.05" font-size="8.3" text-anchor="end" fill="#424242" stroke="#424242" stroke-width="0.2" >3</text>
<text x="540.10" y="170.95" font-size="8.3" text-anchor="end" fill="#424242" stroke="#424242" stroke-width="0.2" >6</text>
<text x="540.10" y="89.95" font-size="8.3" text-anchor="end" fill="#424242" stroke="#424242" stroke-width="0.2" >9</text>
<text x="540.10" y="8.95" font-size="8.3" text-anchor="end" fill="#424242" stroke="#424242" stroke-width="0.2" >12</text>
<text x="1003.40" y="332.55" font-size="8.3" text-anchor="start" fill="#424242" stroke="#424242" stroke-width="0.2" >0</text>
<text x="1003.40" y="251.52" font-size="8.3" text-anchor="start" fill="#424242" stroke="#424242" stroke-width="0.2" >5</text>
<text x="1003.40" y="170.49" font-size="8.3" text-anchor="start" fill="#424242" stroke="#424242" stroke-width="0.2" >10</text>
<text x="1003.40" y="89.46" font-size="8.3" text-anchor="start" fill="#424242" stroke="#424242" stroke-width="0.2" >15</text>
<text x="1003.40" y="8.43" font-size="8.3" text-anchor="start" fill="#424242" stroke="#424242" stroke-width="0.2" >20</text>
<text x="610.20" y="342.30" font-size="8.3" text-anchor="middle" fill="#424242" stroke="#424242" stroke-width="0.2" >10</text>
<text x="756.30" y="342.30" font-size="8.3" text-anchor="middle" fill="#424242" stroke="#424242" stroke-width="0.2" >20</text>
<text x="902.40" y="342.30" font-size="8.3" text-anchor="middle" fill="#424242" stroke="#424242" stroke-width="0.2" >30</text>
<text x="775.75" y="357.45" font-size="11.2" text-anchor="middle" fill="#000000" stroke="#000000" stroke-width="0.18" >UHR</text>
<text transform="translate(531.2,168) rotate(-90)" font-size="11.2" text-anchor="middle" fill="#000000" stroke="#000000" stroke-width="0.18">Odds ratio (95% CI)</text>
<line x1="591.5" y1="31" x2="627.5" y2="31" stroke="#e0506a" stroke-width="1.3"/>
<line x1="591.5" y1="44.2" x2="627.5" y2="44.2" stroke="#2e2e2e" stroke-width="1.35" stroke-dasharray="4 3"/>
<text x="636.70" y="32.40" font-size="11.3" text-anchor="start" fill="#000000" stroke="#000000" stroke-width="0.18" >Estimation</text>
<text x="636.70" y="48.50" font-size="11.3" text-anchor="start" fill="#000000" stroke="#000000" stroke-width="0.18" >95% CI</text>
<text x="862.00" y="32.15" font-size="11.35" text-anchor="start" fill="#000000" stroke="#000000" stroke-width="0.18" >P-overall = &lt; 0.001</text>
<text x="862.00" y="49.20" font-size="11.35" text-anchor="start" fill="#000000" stroke="#000000" stroke-width="0.18" >P-non-linear = 0.510</text>
<text x="776.00" y="68.90" font-size="11.2" text-anchor="middle" fill="#000000" stroke="#000000" stroke-width="0.18" >Model 2</text>
<g fill="#f7f7f7" stroke="#bababa" stroke-width="1.0">
<rect x="1069.30" y="230.20" width="23.64" height="99.20"/>
<rect x="1092.94" y="150.00" width="23.64" height="179.40"/>
<rect x="1116.58" y="119.20" width="23.64" height="210.20"/>
<rect x="1140.22" y="106.00" width="23.64" height="223.40"/>
<rect x="1163.86" y="122.40" width="23.64" height="207.00"/>
<rect x="1187.50" y="186.80" width="23.64" height="142.60"/>
<rect x="1211.14" y="186.80" width="23.64" height="142.60"/>
<rect x="1234.78" y="216.40" width="23.64" height="113.00"/>
<rect x="1258.42" y="254.70" width="23.64" height="74.70"/>
<rect x="1282.06" y="268.30" width="23.64" height="61.10"/>
<rect x="1305.70" y="285.70" width="23.64" height="43.70"/>
<rect x="1329.34" y="292.30" width="23.64" height="37.10"/>
<rect x="1352.98" y="307.00" width="23.64" height="22.40"/>
<rect x="1376.62" y="308.70" width="23.64" height="20.70"/>
<rect x="1400.26" y="318.30" width="23.64" height="11.10"/>
<rect x="1423.90" y="316.70" width="23.64" height="12.70"/>
<rect x="1447.54" y="321.70" width="23.64" height="7.70"/>
<rect x="1471.18" y="321.70" width="23.64" height="7.70"/>
<rect x="1494.82" y="326.30" width="23.64" height="3.10"/>
</g>
<path d="M1069.40,290.67 L1072.22,290.96 L1075.04,291.26 L1077.86,291.55 L1080.68,291.83 L1083.50,292.12 L1086.32,292.40 L1089.14,292.69 L1091.96,292.97 L1094.78,293.24 L1097.59,293.52 L1100.41,293.79 L1103.23,293.17 L1106.05,292.52 L1108.87,291.85 L1111.69,291.16 L1114.51,290.47 L1117.33,289.76 L1120.15,289.04 L1122.97,288.31 L1125.79,287.57 L1128.61,286.81 L1131.43,286.03 L1134.25,285.25 L1137.07,284.45 L1139.89,283.63 L1142.71,282.81 L1145.53,281.97 L1148.35,281.12 L1151.17,280.26 L1153.98,279.39 L1156.80,278.51 L1159.62,277.62 L1162.44,276.72 L1165.26,275.81 L1168.08,274.90 L1170.90,273.98 L1173.72,273.05 L1176.54,272.12 L1179.36,271.19 L1182.18,270.25 L1185.00,269.31 L1187.82,268.37 L1190.64,267.44 L1193.46,266.50 L1196.28,265.56 L1199.10,264.64 L1201.92,263.71 L1204.74,262.79 L1207.56,261.88 L1210.37,260.98 L1213.19,260.09 L1216.01,259.21 L1218.83,258.34 L1221.65,257.48 L1224.47,256.63 L1227.29,255.79 L1230.11,254.96 L1232.93,254.13 L1235.75,253.31 L1238.57,252.50 L1241.39,251.68 L1244.21,250.87 L1247.03,250.06 L1249.85,249.24 L1252.67,248.42 L1255.49,247.60 L1258.31,246.77 L1261.13,245.93 L1263.95,245.08 L1266.76,244.22 L1269.58,243.34 L1272.40,242.45 L1275.22,241.54 L1278.04,240.61 L1280.86,239.67 L1283.68,238.70 L1286.50,237.71 L1289.32,236.71 L1292.14,235.68 L1294.96,234.63 L1297.78,233.55 L1300.60,232.45 L1303.42,231.33 L1306.24,230.19 L1309.06,229.02 L1311.88,227.82 L1314.70,226.60 L1317.52,225.36 L1320.34,224.09 L1323.15,222.79 L1325.97,221.46 L1328.79,220.11 L1331.61,218.72 L1334.43,217.31 L1337.25,215.87 L1340.07,214.40 L1342.89,212.90 L1345.71,211.37 L1348.53,209.80 L1351.35,208.21 L1354.17,206.58 L1356.99,204.91 L1359.81,203.22 L1362.63,201.49 L1365.45,199.72 L1368.27,197.92 L1371.09,196.08 L1373.91,194.20 L1376.73,192.29 L1379.54,190.34 L1382.36,188.35 L1385.18,186.32 L1388.00,184.26 L1390.82,182.15 L1393.64,180.00 L1396.46,177.80 L1399.28,175.57 L1402.10,173.29 L1404.92,170.96 L1407.74,168.59 L1410.56,166.18 L1413.38,163.72 L1416.20,161.21 L1419.02,158.66 L1421.84,156.05 L1424.66,153.40 L1427.48,150.69 L1430.30,147.93 L1433.12,145.13 L1435.93,142.26 L1438.75,139.35 L1441.57,136.38 L1444.39,133.35 L1447.21,130.27 L1450.03,127.13 L1452.85,123.93 L1455.67,120.67 L1458.49,117.35 L1461.31,113.96 L1464.13,110.52 L1466.95,107.01 L1469.77,103.44 L1472.59,99.80 L1475.41,96.09 L1478.23,92.31 L1481.05,88.47 L1483.87,84.55 L1486.69,80.57 L1489.51,76.50 L1492.32,72.37 L1495.14,68.16 L1497.96,63.87 L1500.78,59.50 L1503.60,55.05 L1506.42,50.53 L1509.24,45.92 L1512.06,41.22 L1514.88,36.44 L1516.20,34.16 L1516.20,260.66 L1514.88,260.83 L1512.06,261.19 L1509.24,261.56 L1506.42,261.92 L1503.60,262.28 L1500.78,262.64 L1497.96,263.00 L1495.14,263.37 L1492.32,263.73 L1489.51,264.09 L1486.69,264.45 L1483.87,264.81 L1481.05,265.18 L1478.23,265.54 L1475.41,265.90 L1472.59,266.26 L1469.77,266.63 L1466.95,266.99 L1464.13,267.35 L1461.31,267.72 L1458.49,268.08 L1455.67,268.45 L1452.85,268.81 L1450.03,269.18 L1447.21,269.54 L1444.39,269.91 L1441.57,270.28 L1438.75,270.65 L1435.93,271.01 L1433.12,271.38 L1430.30,271.75 L1427.48,272.12 L1424.66,272.49 L1421.84,272.87 L1419.02,273.24 L1416.20,273.61 L1413.38,273.98 L1410.56,274.36 L1407.74,274.73 L1404.92,275.11 L1402.10,275.49 L1399.28,275.87 L1396.46,276.25 L1393.64,276.63 L1390.82,277.01 L1388.00,277.39 L1385.18,277.77 L1382.36,278.16 L1379.54,278.54 L1376.73,278.93 L1373.91,279.32 L1371.09,279.70 L1368.27,280.09 L1365.45,280.48 L1362.63,280.87 L1359.81,281.27 L1356.99,281.66 L1354.17,282.06 L1351.35,282.45 L1348.53,282.85 L1345.71,283.25 L1342.89,283.64 L1340.07,284.04 L1337.25,284.45 L1334.43,284.85 L1331.61,285.25 L1328.79,285.65 L1325.97,286.06 L1323.15,286.46 L1320.34,286.87 L1317.52,287.27 L1314.70,287.68 L1311.88,288.09 L1309.06,288.50 L1306.24,288.90 L1303.42,289.31 L1300.60,289.72 L1297.78,290.13 L1294.96,290.54 L1292.14,290.95 L1289.32,291.36 L1286.50,291.77 L1283.68,292.18 L1280.86,292.59 L1278.04,292.99 L1275.22,293.40 L1272.40,293.81 L1269.58,294.21 L1266.76,294.61 L1263.95,295.00 L1261.13,295.39 L1258.31,295.77 L1255.49,296.14 L1252.67,296.50 L1249.85,296.85 L1247.03,297.19 L1244.21,297.51 L1241.39,297.83 L1238.57,298.12 L1235.75,298.40 L1232.93,298.67 L1230.11,298.92 L1227.29,299.14 L1224.47,299.35 L1221.65,299.54 L1218.83,299.71 L1216.01,299.86 L1213.19,299.98 L1210.37,300.08 L1207.56,300.16 L1204.74,300.22 L1201.92,300.26 L1199.10,300.28 L1196.28,300.28 L1193.46,300.26 L1190.64,300.23 L1187.82,300.18 L1185.00,300.11 L1182.18,300.03 L1179.36,299.93 L1176.54,299.82 L1173.72,299.70 L1170.90,299.57 L1168.08,299.42 L1165.26,299.26 L1162.44,299.09 L1159.62,298.90 L1156.80,298.71 L1153.98,298.51 L1151.17,298.30 L1148.35,298.09 L1145.53,297.86 L1142.71,297.63 L1139.89,297.40 L1137.07,297.16 L1134.25,296.91 L1131.43,296.66 L1128.61,296.41 L1125.79,296.16 L1122.97,295.90 L1120.15,295.65 L1117.33,295.39 L1114.51,295.13 L1111.69,294.86 L1108.87,294.60 L1106.05,294.33 L1103.23,294.06 L1100.41,293.82 L1097.59,294.45 L1094.78,295.08 L1091.96,295.69 L1089.14,296.29 L1086.32,296.88 L1083.50,297.46 L1080.68,298.03 L1077.86,298.59 L1075.04,299.14 L1072.22,299.68 L1069.40,300.21 Z" fill="#dc2543" fill-opacity="0.09"/>
<line x1="1070.30" y1="293.80" x2="1518.40" y2="293.80" stroke="#adadad" stroke-width="2.1" stroke-dasharray="8.3 7.3"/>
<path d="M1069.40,295.78 L1072.22,295.60 L1075.04,295.43 L1077.86,295.25 L1080.68,295.07 L1083.50,294.89 L1086.32,294.71 L1089.14,294.53 L1091.96,294.35 L1094.78,294.17 L1097.59,293.99 L1100.41,293.81 L1103.23,293.62 L1106.05,293.44 L1108.87,293.25 L1111.69,293.06 L1114.51,292.87 L1117.33,292.68 L1120.15,292.49 L1122.97,292.30 L1125.79,292.11 L1128.61,291.92 L1131.43,291.72 L1134.25,291.52 L1137.07,291.33 L1139.89,291.13 L1142.71,290.93 L1145.53,290.72 L1148.35,290.52 L1151.17,290.31 L1153.98,290.10 L1156.80,289.88 L1159.62,289.66 L1162.44,289.44 L1165.26,289.21 L1168.08,288.97 L1170.90,288.74 L1173.72,288.49 L1176.54,288.24 L1179.36,287.98 L1182.18,287.72 L1185.00,287.45 L1187.82,287.17 L1190.64,286.88 L1193.46,286.59 L1196.28,286.28 L1199.10,285.97 L1201.92,285.65 L1204.74,285.31 L1207.56,284.97 L1210.37,284.61 L1213.19,284.24 L1216.01,283.86 L1218.83,283.47 L1221.65,283.06 L1224.47,282.64 L1227.29,282.21 L1230.11,281.76 L1232.93,281.31 L1235.75,280.84 L1238.57,280.36 L1241.39,279.86 L1244.21,279.36 L1247.03,278.85 L1249.85,278.32 L1252.67,277.79 L1255.49,277.24 L1258.31,276.68 L1261.13,276.12 L1263.95,275.54 L1266.76,274.96 L1269.58,274.37 L1272.40,273.77 L1275.22,273.16 L1278.04,272.55 L1280.86,271.92 L1283.68,271.30 L1286.50,270.66 L1289.32,270.02 L1292.14,269.37 L1294.96,268.71 L1297.78,268.05 L1300.60,267.38 L1303.42,266.70 L1306.24,266.01 L1309.06,265.32 L1311.88,264.62 L1314.70,263.91 L1317.52,263.20 L1320.34,262.47 L1323.15,261.74 L1325.97,261.00 L1328.79,260.25 L1331.61,259.50 L1334.43,258.73 L1337.25,257.96 L1340.07,257.18 L1342.89,256.39 L1345.71,255.59 L1348.53,254.78 L1351.35,253.97 L1354.17,253.14 L1356.99,252.31 L1359.81,251.47 L1362.63,250.62 L1365.45,249.75 L1368.27,248.88 L1371.09,248.00 L1373.91,247.11 L1376.73,246.21 L1379.54,245.30 L1382.36,244.38 L1385.18,243.45 L1388.00,242.51 L1390.82,241.56 L1393.64,240.60 L1396.46,239.63 L1399.28,238.65 L1402.10,237.66 L1404.92,236.66 L1407.74,235.64 L1410.56,234.62 L1413.38,233.58 L1416.20,232.53 L1419.02,231.47 L1421.84,230.40 L1424.66,229.32 L1427.48,228.23 L1430.30,227.12 L1433.12,226.00 L1435.93,224.87 L1438.75,223.73 L1441.57,222.57 L1444.39,221.41 L1447.21,220.22 L1450.03,219.03 L1452.85,217.82 L1455.67,216.60 L1458.49,215.37 L1461.31,214.12 L1464.13,212.86 L1466.95,211.59 L1469.77,210.30 L1472.59,209.00 L1475.41,207.68 L1478.23,206.35 L1481.05,205.01 L1483.87,203.65 L1486.69,202.27 L1489.51,200.88 L1492.32,199.48 L1495.14,198.06 L1497.96,196.62 L1500.78,195.17 L1503.60,193.70 L1506.42,192.22 L1509.24,190.72 L1512.06,189.20 L1514.88,187.67 L1517.70,186.12" fill="none" stroke="#ffffff" stroke-opacity="0.6" stroke-width="4.8" stroke-linejoin="round"/>
<path d="M1069.40,295.78 L1072.22,295.60 L1075.04,295.43 L1077.86,295.25 L1080.68,295.07 L1083.50,294.89 L1086.32,294.71 L1089.14,294.53 L1091.96,294.35 L1094.78,294.17 L1097.59,293.99 L1100.41,293.81 L1103.23,293.62 L1106.05,293.44 L1108.87,293.25 L1111.69,293.06 L1114.51,292.87 L1117.33,292.68 L1120.15,292.49 L1122.97,292.30 L1125.79,292.11 L1128.61,291.92 L1131.43,291.72 L1134.25,291.52 L1137.07,291.33 L1139.89,291.13 L1142.71,290.93 L1145.53,290.72 L1148.35,290.52 L1151.17,290.31 L1153.98,290.10 L1156.80,289.88 L1159.62,289.66 L1162.44,289.44 L1165.26,289.21 L1168.08,288.97 L1170.90,288.74 L1173.72,288.49 L1176.54,288.24 L1179.36,287.98 L1182.18,287.72 L1185.00,287.45 L1187.82,287.17 L1190.64,286.88 L1193.46,286.59 L1196.28,286.28 L1199.10,285.97 L1201.92,285.65 L1204.74,285.31 L1207.56,284.97 L1210.37,284.61 L1213.19,284.24 L1216.01,283.86 L1218.83,283.47 L1221.65,283.06 L1224.47,282.64 L1227.29,282.21 L1230.11,281.76 L1232.93,281.31 L1235.75,280.84 L1238.57,280.36 L1241.39,279.86 L1244.21,279.36 L1247.03,278.85 L1249.85,278.32 L1252.67,277.79 L1255.49,277.24 L1258.31,276.68 L1261.13,276.12 L1263.95,275.54 L1266.76,274.96 L1269.58,274.37 L1272.40,273.77 L1275.22,273.16 L1278.04,272.55 L1280.86,271.92 L1283.68,271.30 L1286.50,270.66 L1289.32,270.02 L1292.14,269.37 L1294.96,268.71 L1297.78,268.05 L1300.60,267.38 L1303.42,266.70 L1306.24,266.01 L1309.06,265.32 L1311.88,264.62 L1314.70,263.91 L1317.52,263.20 L1320.34,262.47 L1323.15,261.74 L1325.97,261.00 L1328.79,260.25 L1331.61,259.50 L1334.43,258.73 L1337.25,257.96 L1340.07,257.18 L1342.89,256.39 L1345.71,255.59 L1348.53,254.78 L1351.35,253.97 L1354.17,253.14 L1356.99,252.31 L1359.81,251.47 L1362.63,250.62 L1365.45,249.75 L1368.27,248.88 L1371.09,248.00 L1373.91,247.11 L1376.73,246.21 L1379.54,245.30 L1382.36,244.38 L1385.18,243.45 L1388.00,242.51 L1390.82,241.56 L1393.64,240.60 L1396.46,239.63 L1399.28,238.65 L1402.10,237.66 L1404.92,236.66 L1407.74,235.64 L1410.56,234.62 L1413.38,233.58 L1416.20,232.53 L1419.02,231.47 L1421.84,230.40 L1424.66,229.32 L1427.48,228.23 L1430.30,227.12 L1433.12,226.00 L1435.93,224.87 L1438.75,223.73 L1441.57,222.57 L1444.39,221.41 L1447.21,220.22 L1450.03,219.03 L1452.85,217.82 L1455.67,216.60 L1458.49,215.37 L1461.31,214.12 L1464.13,212.86 L1466.95,211.59 L1469.77,210.30 L1472.59,209.00 L1475.41,207.68 L1478.23,206.35 L1481.05,205.01 L1483.87,203.65 L1486.69,202.27 L1489.51,200.88 L1492.32,199.48 L1495.14,198.06 L1497.96,196.62 L1500.78,195.17 L1503.60,193.70 L1506.42,192.22 L1509.24,190.72 L1512.06,189.20 L1514.88,187.67 L1517.70,186.12" fill="none" stroke="#dc2543" stroke-width="2.4" stroke-linejoin="round"/>
<circle cx="1100.50" cy="293.80" r="3.0" fill="#dc2543"/>
<g stroke="#333333" stroke-width="1.45" fill="none">
<path d="M1069.40,5.0 V329.4 H1518.40 V5.0" stroke-linejoin="miter"/>
<line x1="1066.50" y1="329.4" x2="1069.40" y2="329.4" stroke-width="1.1"/>
<line x1="1066.50" y1="239.3" x2="1069.40" y2="239.3" stroke-width="1.1"/>
<line x1="1066.50" y1="149.2" x2="1069.40" y2="149.2" stroke-width="1.1"/>
<line x1="1066.50" y1="59" x2="1069.40" y2="59" stroke-width="1.1"/>
<line x1="1518.40" y1="329.40" x2="1521.20" y2="329.40" stroke-width="1.1"/>
<line x1="1518.40" y1="248.37" x2="1521.20" y2="248.37" stroke-width="1.1"/>
<line x1="1518.40" y1="167.34" x2="1521.20" y2="167.34" stroke-width="1.1"/>
<line x1="1518.40" y1="86.31" x2="1521.20" y2="86.31" stroke-width="1.1"/>
<line x1="1518.40" y1="5.28" x2="1521.20" y2="5.28" stroke-width="1.1"/>
<line x1="1132.9" y1="329.4" x2="1132.9" y2="332.4" stroke-width="1.1"/>
<line x1="1278.15" y1="329.4" x2="1278.15" y2="332.4" stroke-width="1.1"/>
<line x1="1423.4" y1="329.4" x2="1423.4" y2="332.4" stroke-width="1.1"/>
</g>
<text x="1063.40" y="333.05" font-size="8.3" text-anchor="end" fill="#424242" stroke="#424242" stroke-width="0.2" >0.0</text>
<text x="1063.40" y="242.95" font-size="8.3" text-anchor="end" fill="#424242" stroke="#424242" stroke-width="0.2" >2.5</text>
<text x="1063.40" y="152.85" font-size="8.3" text-anchor="end" fill="#424242" stroke="#424242" stroke-width="0.2" >5.0</text>
<text x="1063.40" y="62.65" font-size="8.3" text-anchor="end" fill="#424242" stroke="#424242" stroke-width="0.2" >7.5</text>
<text x="1523.60" y="332.55" font-size="8.3" text-anchor="start" fill="#424242" stroke="#424242" stroke-width="0.2" >0</text>
<text x="1523.60" y="251.52" font-size="8.3" text-anchor="start" fill="#424242" stroke="#424242" stroke-width="0.2" >5</text>
<text x="1523.60" y="170.49" font-size="8.3" text-anchor="start" fill="#424242" stroke="#424242" stroke-width="0.2" >10</text>
<text x="1523.60" y="89.46" font-size="8.3" text-anchor="start" fill="#424242" stroke="#424242" stroke-width="0.2" >15</text>
<text x="1523.60" y="8.43" font-size="8.3" text-anchor="start" fill="#424242" stroke="#424242" stroke-width="0.2" >20</text>
<text x="1132.90" y="342.30" font-size="8.3" text-anchor="middle" fill="#424242" stroke="#424242" stroke-width="0.2" >10</text>
<text x="1278.15" y="342.30" font-size="8.3" text-anchor="middle" fill="#424242" stroke="#424242" stroke-width="0.2" >20</text>
<text x="1423.40" y="342.30" font-size="8.3" text-anchor="middle" fill="#424242" stroke="#424242" stroke-width="0.2" >30</text>
<text x="1298.00" y="357.45" font-size="11.2" text-anchor="middle" fill="#000000" stroke="#000000" stroke-width="0.18" >UHR</text>
<text transform="translate(1052,168) rotate(-90)" font-size="11.2" text-anchor="middle" fill="#000000" stroke="#000000" stroke-width="0.18">Odds ratio (95% CI)</text>
<line x1="1114.2" y1="31" x2="1150.2" y2="31" stroke="#e0506a" stroke-width="1.3"/>
<line x1="1114.2" y1="44.2" x2="1150.2" y2="44.2" stroke="#2e2e2e" stroke-width="1.35" stroke-dasharray="4 3"/>
<text x="1159.40" y="32.40" font-size="11.3" text-anchor="start" fill="#000000" stroke="#000000" stroke-width="0.18" >Estimation</text>
<text x="1159.40" y="48.50" font-size="11.3" text-anchor="start" fill="#000000" stroke="#000000" stroke-width="0.18" >95% CI</text>
<text x="1383.70" y="33.65" font-size="11.35" text-anchor="start" fill="#000000" stroke="#000000" stroke-width="0.18" >P-overall = 0.001</text>
<text x="1383.70" y="50.70" font-size="11.35" text-anchor="start" fill="#000000" stroke="#000000" stroke-width="0.18" >P-non-linear = 0.500</text>
<text x="1297.00" y="68.90" font-size="11.2" text-anchor="middle" fill="#000000" stroke="#000000" stroke-width="0.18" >Model 3</text>
</svg>
</body></html>
